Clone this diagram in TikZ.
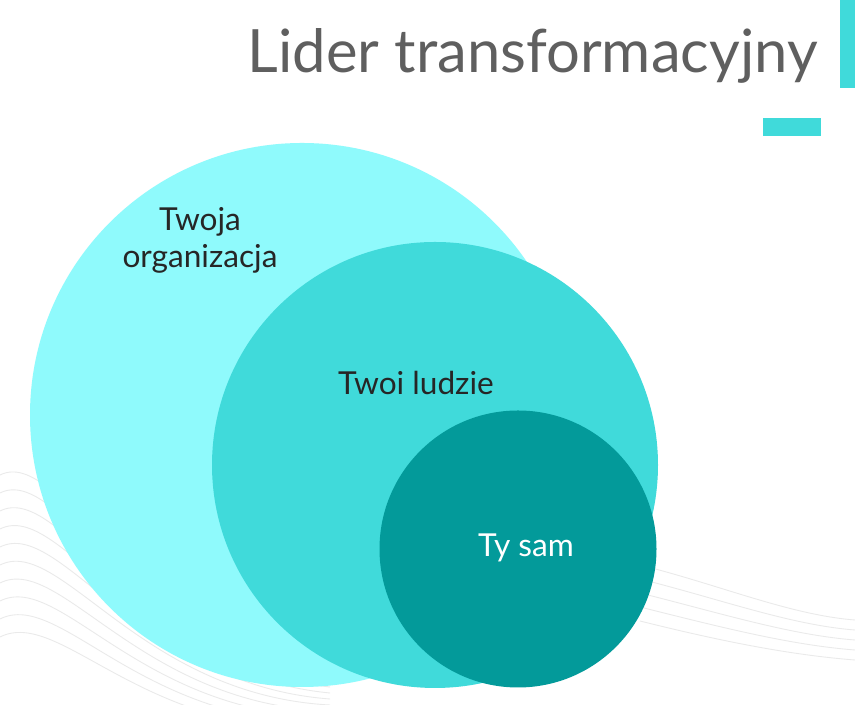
\documentclass[tikz,border=0pt]{standalone}
\usepackage{fontspec}
\setmainfont{Lato}
\usetikzlibrary{positioning}

\definecolor{outercyan}{HTML}{8FFAFC}
\definecolor{midcyan}{HTML}{40DADA}
\definecolor{innerteal}{HTML}{039A9A}
\definecolor{titlegray}{HTML}{5F5F5F}
\definecolor{wavegray}{HTML}{EAEAEA}

\begin{document}
\begin{tikzpicture}[x=0.02cm, y=0.02cm,
    every node/.style={font=\fontsize{18}{22}\selectfont},
    ring/.style={circle, draw=none, inner sep=0pt},
    accent/.style={fill=midcyan, draw=none},
    wave/.style={draw=wavegray, line width=0.5pt}
]
    % Canvas
    \useasboundingbox[fill=white] (0,0) rectangle (855,705);

    % Background waves
    \foreach \i in {0,...,9} {
        \draw[wave] (0,{230-18*\i}) .. controls (60,{260-18*\i}) and (140,{60-10*\i}) .. (330,{30-6*\i});
    }
    \foreach \i in {0,...,4} {
        \draw[wave] (640,{140-14*\i}) .. controls (720,{120-14*\i}) and (790,{90-10*\i}) .. (855,{85-10*\i});
    }

    % Circles
    \node (org) [ring, fill=outercyan, minimum size=544*0.02cm] at (302,290) {};
    \node (people) [ring, fill=midcyan, minimum size=446*0.02cm] at (435,240) {};
    \node (self) [ring, fill=innerteal, minimum size=277*0.02cm] at (518,156) {};

    % Labels
    \node (orglabel) [align=center, text=black!85] at (200,465) {Twoja\\[-1pt]organizacja};
    \node (peoplelabel) [text=black!85] at (416,322) {Twoi ludzie};
    \node (selflabel) [text=white] at (526,157) {Ty sam};

    % Title and accents
    \node (title) [anchor=base east, inner sep=0pt, text=titlegray, font=\fontsize{34}{40}\selectfont] at (818,632) {Lider transformacyjny};
    \fill[accent] (840,617) rectangle (855,705);
    \fill[accent] (763,569) rectangle (821,587);

\end{tikzpicture}
\end{document}
